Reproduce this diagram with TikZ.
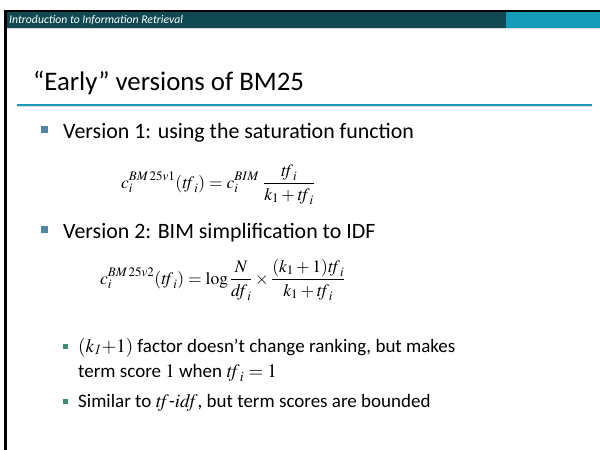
\documentclass[tikz,border=0pt]{standalone}
\usepackage{mathptmx}
\usepackage{amsmath}
\usepackage[no-math]{fontspec}
\setmainfont{Carlito}
\usetikzlibrary{positioning}
\definecolor{hdrdark}{RGB}{16, 73, 81}
\definecolor{hdrlight}{RGB}{22, 155, 184}
\definecolor{rulecol}{RGB}{26, 155, 184}
\definecolor{bulblue}{RGB}{77, 135, 163}
\definecolor{bulgreen}{RGB}{58, 143, 112}
\newcommand{\tfx}{\mathit{tf}}

\begin{document}
\begin{tikzpicture}[
    x=1pt, y=-1pt,
    headertext/.style={anchor=base west, inner sep=0, text=white, font=\fontsize{11.7}{13}\selectfont\itshape},
    slidetitle/.style={anchor=base west, inner sep=0, font=\fontsize{26.8}{30}\selectfont},
    itemone/.style={anchor=base west, inner sep=0, font=\fontsize{21.9}{26}\selectfont},
    itemtwo/.style={anchor=base west, inner sep=0, font=\fontsize{19}{22}\selectfont},
    bulletone/.style={rectangle, fill=bulblue, minimum size=7pt, inner sep=0},
    bullettwo/.style={rectangle, fill=bulgreen, minimum size=5pt, inner sep=0},
    formula/.style={anchor=base west, inner sep=0, font=\fontsize{17.5}{20}\selectfont}
]
    \useasboundingbox (0,0) rectangle (600,450);

    % Header bar
    \fill[black] (4,9.5) rectangle (600,12);
    \fill[hdrdark] (4,12) rectangle (506,28);
    \fill[hdrlight] (506,12) rectangle (600,28);
    \fill[black!15] (4,28) rectangle (600,29);
    \fill[black] (4,12) rectangle (7,450);
    \node[headertext] (header) at (9,23.5) {Introduction to Information Retrieval};

    % Title
    \node[slidetitle] (title) at (33,90) {“Early” versions of BM25};
    \fill[black!12] (17,105.5) rectangle (592,107);
    \fill[rulecol] (17,103.5) rectangle (592,105.5);

    % Version 1
    \node[bulletone] (b1) at (44,129) {};
    \node[itemone] (v1) at (63,138) {Version 1: using the saturation function};
    \node[formula] (eq1) at (121,188)
        {$\displaystyle c_i^{BM\,25v1}(\tfx_i) = c_i^{BIM}\ \frac{\tfx_i}{k_1 + \tfx_i}$};

    % Version 2
    \node[bulletone] (b2) at (44,229) {};
    \node[itemone] (v2) at (63,238) {Version 2: BIM simplification to IDF};
    \node[formula] (eq2) at (100,284)
        {$\displaystyle c_i^{BM\,25v2}(\tfx_i) = \log\frac{N}{\mathit{df}_i} \times \frac{(k_1 + 1)\tfx_i}{k_1 + \tfx_i}$};

    % Remarks
    \node[bullettwo] (b3) at (65,346) {};
    \node[itemtwo] (r1) at (78,352)
        {$(k_{\mathit{1}}{+}1)$ factor doesn’t change ranking, but makes};
    \node[itemtwo] (r1b) at (78,377) {term score $1$ when $\tfx_i = 1$};
    \node[bullettwo] (b4) at (65,401) {};
    \node[itemtwo] (r2) at (78,407) {Similar to $\tfx$-$\mathit{idf}$, but term scores are bounded};

\end{tikzpicture}
\end{document}
